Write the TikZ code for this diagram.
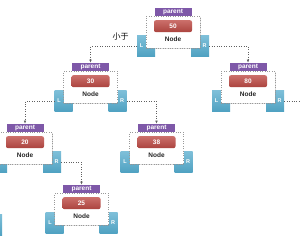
\documentclass[tikz,border=0pt]{standalone}
\usepackage{fontspec}
\setmainfont{Liberation Sans}
\newfontfamily\cjk{Noto Sans CJK SC}
\usetikzlibrary{arrows.meta,shadows}
\definecolor{ppl}{HTML}{7E58A8}
\definecolor{rd}{HTML}{BE4B45}
\definecolor{aq}{HTML}{52A9CB}
\tikzset{
 boxst/.style={draw=gray!80, dotted, fill=white, minimum width=54pt, minimum height=32pt, inner sep=0pt, anchor=north,
   drop shadow={shadow xshift=0.8pt, shadow yshift=-0.8pt, opacity=0.25}},
 parst/.style={fill=ppl, text=white, font=\bfseries\fontsize{6.5}{6.5}\selectfont, minimum width=37pt, minimum height=8pt, inner sep=0pt, anchor=south},
 valst/.style={rounded corners=2pt, top color=rd!80!white, bottom color=rd!90!black, text=white, font=\bfseries\fontsize{6.5}{6.5}\selectfont, minimum width=38pt, minimum height=12pt, inner sep=0pt, anchor=north},
 lrst/.style={top color=aq!75!white, bottom color=aq!95!black, minimum width=18pt, minimum height=21pt, inner sep=0pt},
 lrtxt/.style={text=white, font=\bfseries\fontsize{5.5}{5.5}\selectfont, inner sep=0pt},
 nodetxt/.style={font=\bfseries\fontsize{6.5}{6.5}\selectfont, text=black!85, inner sep=0pt},
 link/.style={draw=gray!75!black, dotted, line width=0.45pt, -{Latex[length=3pt,width=2.5pt]}},
 plainlink/.style={draw=gray!75!black, dotted, line width=0.45pt},
}
\newcommand\bstcore[4]{%
 \node[lrst] (#1-L) at (#2-27,#3+30.5) {};
 \node[lrst] (#1-R) at (#2+27,#3+30.5) {};
 \node[lrtxt] (#1-Rt) at (#2+31.5,#3+30) {R};
 \node[boxst] (#1-box) at (#2,#3) {};
 \node[parst] (#1-par) at (#2,#3) {parent};
 \node[valst] (#1-val) at (#2,#3+4) {#4};
 \node[nodetxt] (#1-txt) at (#2,#3+23.5) {Node};
}
\newcommand\bstnode[4]{%
 \bstcore{#1}{#2}{#3}{#4}%
 \node[lrtxt] (#1-Lt) at (#2-31.5,#3+30) {L};
}
\begin{document}
\begin{tikzpicture}[x=1pt,y=-1pt]
\useasboundingbox (0,0) rectangle (300,240);
\node[lrst] (offR) at (-7,225.5) {};
\bstnode{n50}{173}{16}{50}
\bstnode{n30}{90.5}{71}{30}
\bstnode{n80}{248}{71}{80}
\bstcore{n20}{25}{132}{20}
\bstnode{n38}{156.5}{132}{38}
\bstnode{n25}{81.5}{193}{25}
\node[font=\cjk\fontsize{8}{8}\selectfont, inner sep=0pt] (lbl) at (120.5,37) {小于};
\draw[link] (n50-L.west) -| (n30-par.north);
\draw[link] (n50-R.east) -| (n80-par.north);
\draw[link] (n30-L.west) -| (n20-par.north);
\draw[link] (n30-R.east) -| (n38-par.north);
\draw[link] (n20-R.east) -| (n25-par.north);
\coordinate (out80) at (300,101.5);
\draw[plainlink] (n80-R.east) -- (out80);
\end{tikzpicture}
\end{document}
